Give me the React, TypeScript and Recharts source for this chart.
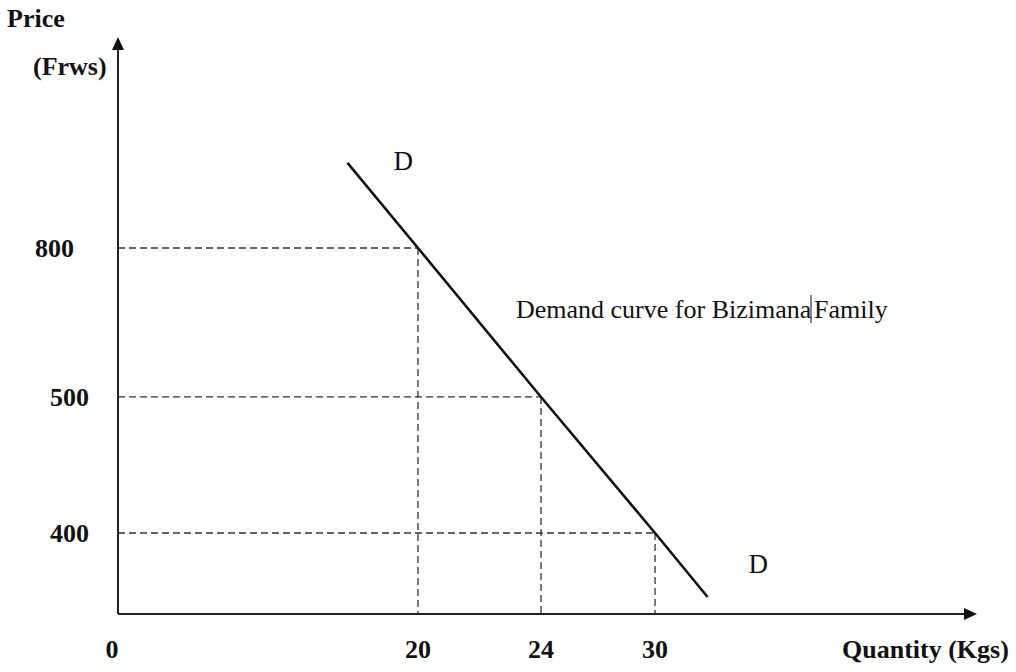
import React from "react";
import {
  LineChart,
  Line,
  XAxis,
  YAxis,
  ReferenceLine,
  Customized,
} from "recharts";

// demand schedule as drawn (ends of the D line included)
const quantities = [15.3, 20, 24, 30, 31.7];
const prices = [886, 800, 500, 400, 84];

// points marked with dashed guides
const markedQuantities = [20, 24, 30];
const markedPrices = [800, 500, 400];

const xTicks = [0, 20, 24, 30];
const yTicks = [400, 500, 800];

const data = quantities.map((q, i) => ({ quantity: q, price: prices[i] }));

const FONT = "'Liberation Serif', 'Times New Roman', serif";

// the diagram is not drawn to scale: ticks sit at hand-placed spots on the axes,
// so each axis gets a piecewise linear scale through those spots
function knotScale(values: number[], fracs: number[]) {
  let dom: number[] = [values[0], values[values.length - 1]];
  let rng: number[] = [0, 1];
  const frac = (v: number) => {
    let i = 1;
    while (i < values.length - 1 && v > values[i]) i++;
    const v0 = values[i - 1];
    const v1 = values[i];
    return fracs[i - 1] + ((v - v0) / (v1 - v0)) * (fracs[i] - fracs[i - 1]);
  };
  const scale: any = (v: number) => rng[0] + (rng[1] - rng[0]) * frac(v);
  scale.domain = (d?: number[]) => {
    if (!d) return dom.slice();
    dom = d.slice();
    return scale;
  };
  scale.range = (r?: number[]) => {
    if (!r) return rng.slice();
    rng = r.slice();
    return scale;
  };
  scale.copy = () => knotScale(values, fracs).domain(dom).range(rng);
  scale.ticks = () => values.slice();
  return scale;
}

const xScale = knotScale([0, 20, 24, 30, 40], [0, 0.3546, 0.5, 0.6348, 1]);
const yScale = knotScale([0, 400, 500, 800, 1000], [0, 0.1436, 0.3848, 0.6489, 1]);

const XTick = (props: any) => {
  const { x, payload } = props;
  return (
    <text
      x={payload.value === 0 ? x - 6 : x}
      y={658}
      textAnchor="middle"
      fontFamily={FONT}
      fontWeight="bold"
      fontSize={26}
      fill="#111"
    >
      {payload.value}
    </text>
  );
};

const YTick = (props: any) => {
  const { y, payload } = props;
  return (
    <text
      x={payload.value === 800 ? 74 : 89}
      y={y + 9}
      textAnchor="end"
      fontFamily={FONT}
      fontWeight="bold"
      fontSize={26}
      fill="#111"
    >
      {payload.value}
    </text>
  );
};

// "D" at both ends of the demand line
const EndLabel = (props: any) => {
  const { x, y, index } = props;
  if (index === 0) {
    return (
      <text x={x + 46} y={y + 7} fontFamily={FONT} fontSize={27} fill="#111">
        D
      </text>
    );
  }
  if (index === data.length - 1) {
    return (
      <text x={x + 41} y={y - 24} fontFamily={FONT} fontSize={27} fill="#111">
        D
      </text>
    );
  }
  return null;
};

const Decor = () => (
  <g fontFamily={FONT} fill="#111">
    <defs>
      <marker
        id="arrowHead"
        markerUnits="userSpaceOnUse"
        markerWidth={13}
        markerHeight={12}
        viewBox="0 0 13 12"
        refX={0}
        refY={6}
        orient="auto-start-reverse"
      >
        <path d="M0,0 L13,6 L0,12 z" fill="#111" />
      </marker>
    </defs>
    <text x={7} y={27} fontWeight="bold" fontSize={26}>
      Price
    </text>
    <text x={33} y={75} fontWeight="bold" fontSize={26}>
      (Frws)
    </text>
    <text x={842} y={658} fontWeight="bold" fontSize={26}>
      Quantity (Kgs)
    </text>
    <text x={516} y={318} fontSize={26}>
      Demand curve for Bizimana
    </text>
    <line x1={811} y1={295} x2={811} y2={323} stroke="#111" strokeWidth={1} />
    <text x={814} y={318} fontSize={26}>
      Family
    </text>
  </g>
);

export default function App() {
  return (
    <div style={{ position: "absolute", left: 0, top: 0, background: "#fff" }}>
      <LineChart
        width={1016}
        height={672}
        data={data}
        margin={{ top: 50, right: 52, left: 0, bottom: 0 }}
      >
        <Customized component={<Decor />} />
        <XAxis
          dataKey="quantity"
          type="number"
          domain={[0, 40]}
          scale={xScale}
          ticks={xTicks}
          height={58}
          tickLine={false}
          axisLine={{ stroke: "#222", strokeWidth: 2, markerEnd: "url(#arrowHead)" }}
          tick={<XTick />}
          interval={0}
        />
        <YAxis
          dataKey="price"
          type="number"
          domain={[0, 1000]}
          scale={yScale}
          ticks={yTicks}
          width={118}
          tickLine={false}
          axisLine={{ stroke: "#222", strokeWidth: 2, markerStart: "url(#arrowHead)" }}
          tick={<YTick />}
          interval={0}
        />
        {markedQuantities.map((q, i) => (
          <ReferenceLine
            key={`h${q}`}
            segment={[
              { x: 0, y: markedPrices[i] },
              { x: q, y: markedPrices[i] },
            ]}
            stroke="#333"
            strokeWidth={1.3}
            strokeDasharray="7 4"
            ifOverflow="visible"
          />
        ))}
        {markedQuantities.map((q, i) => (
          <ReferenceLine
            key={`v${q}`}
            segment={[
              { x: q, y: markedPrices[i] },
              { x: q, y: 0 },
            ]}
            stroke="#333"
            strokeWidth={1.3}
            strokeDasharray="7 4"
            ifOverflow="visible"
          />
        ))}
        <Line
          type="linear"
          dataKey="price"
          stroke="#111"
          strokeWidth={2.6}
          dot={false}
          label={<EndLabel />}
          isAnimationActive={false}
        />
      </LineChart>
    </div>
  );
}
